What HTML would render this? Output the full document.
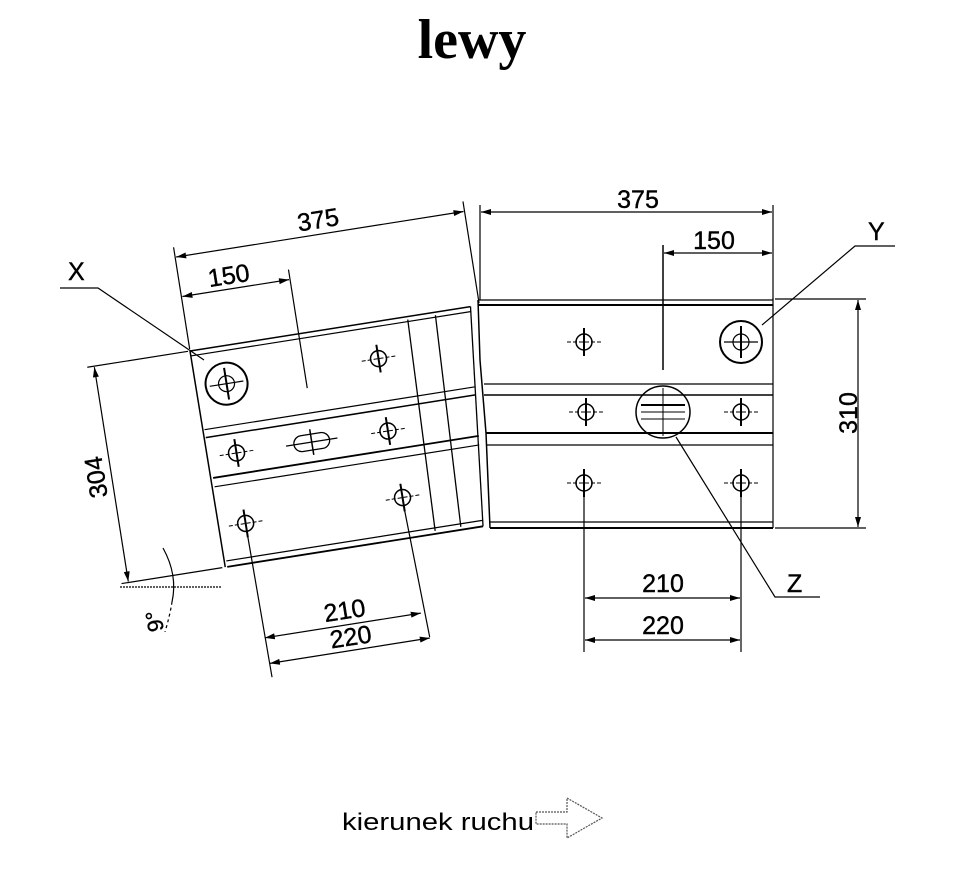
<!DOCTYPE html>
<html><head><meta charset="utf-8"><style>
html,body{margin:0;padding:0;background:#fff;}
svg{display:block;}
text{font-family:"Liberation Sans",Arial,sans-serif;fill:#000;}
.d{font-size:25px;stroke:#000;stroke-width:0.4;}
</style></head><body>
<svg width="957" height="875" viewBox="0 0 957 875" xmlns="http://www.w3.org/2000/svg">
<defs>
<marker id="a" viewBox="0 0 10 6" refX="10" refY="3" markerWidth="12" markerHeight="6" orient="auto-start-reverse" markerUnits="userSpaceOnUse"><path d="M0,0 L10,3 L0,6 Z" fill="#000"/></marker>
<g id="sh">
<circle r="8" fill="none" stroke="#000" stroke-width="1.5"/>
<line x1="-17" y1="0" x2="17" y2="0" stroke="#000" stroke-width="1" stroke-dasharray="4,2"/>
<line x1="0" y1="-14" x2="0" y2="14" stroke="#000" stroke-width="2"/>
</g>
<g id="bh">
<circle r="21" fill="none" stroke="#000" stroke-width="2"/>
<circle r="8" fill="none" stroke="#000" stroke-width="1.2"/>
<line x1="-17" y1="0" x2="17" y2="0" stroke="#000" stroke-width="1.2"/>
<line x1="0" y1="-16" x2="0" y2="16" stroke="#000" stroke-width="2"/>
</g>
</defs>

<text x="472" y="58" text-anchor="middle" style="font-family:'Liberation Serif',serif;font-weight:bold;font-size:56px">lewy</text>

<!-- RIGHT PANEL -->
<g stroke="#000" fill="none">
<line x1="478" y1="300" x2="773" y2="300" stroke-width="1.2"/>
<line x1="478" y1="305" x2="773" y2="305" stroke-width="2"/>
<line x1="484" y1="384" x2="773" y2="384" stroke-width="1.2"/>
<line x1="484" y1="395" x2="773" y2="395" stroke-width="1.5"/>
<line x1="486" y1="433" x2="773" y2="433" stroke-width="2"/>
<line x1="486" y1="445" x2="773" y2="445" stroke-width="1.2"/>
<line x1="490" y1="522" x2="773" y2="522" stroke-width="1.2"/>
<line x1="490" y1="528" x2="773" y2="528" stroke-width="2"/>
<line x1="773" y1="298" x2="773" y2="528" stroke-width="1.2"/>
<path d="M478,300 L480,360 L486,433 L490,528" stroke-width="1.5"/>
<line x1="663" y1="245" x2="663" y2="370" stroke-width="1.5"/>
</g>
<use href="#sh" x="584" y="342"/>
<use href="#bh" x="741" y="342"/>
<use href="#sh" x="586" y="412"/>
<use href="#sh" x="741" y="412"/>
<use href="#sh" x="584" y="483"/>
<use href="#sh" x="741" y="483"/>
<g stroke="#000" fill="none">
<ellipse cx="663" cy="412" rx="27" ry="26" stroke-width="1.5"/>
<line x1="641" y1="405" x2="685" y2="405" stroke-width="2"/>
<line x1="641" y1="412" x2="685" y2="412" stroke-width="1"/>
<line x1="641" y1="419" x2="685" y2="419" stroke-width="1"/>
<line x1="663" y1="388" x2="663" y2="436" stroke-width="1"/>
</g>
<!-- right dims -->
<g stroke="#000" stroke-width="1.2" fill="none">
<line x1="480" y1="205" x2="480" y2="300"/>
<line x1="773" y1="205" x2="773" y2="300"/>
<line x1="481" y1="212" x2="772" y2="212" marker-start="url(#a)" marker-end="url(#a)"/>
<line x1="664" y1="253" x2="772" y2="253" marker-start="url(#a)" marker-end="url(#a)"/>
<line x1="775" y1="299" x2="866" y2="299"/>
<line x1="775" y1="528" x2="866" y2="528"/>
<line x1="858" y1="300" x2="858" y2="527" marker-start="url(#a)" marker-end="url(#a)"/>
<line x1="584" y1="495" x2="584" y2="652"/>
<line x1="741" y1="495" x2="741" y2="652"/>
<line x1="585" y1="598" x2="740" y2="598" marker-start="url(#a)" marker-end="url(#a)"/>
<line x1="585" y1="640" x2="740" y2="640" marker-start="url(#a)" marker-end="url(#a)"/>
<path d="M895,246 L855,246 L762,325"/>
<path d="M820,597 L775,597 L676,437"/>
</g>
<text class="d" x="638" y="208" text-anchor="middle">375</text>
<text class="d" x="714" y="249" text-anchor="middle">150</text>
<text class="d" x="663" y="592" text-anchor="middle">210</text>
<text class="d" x="663" y="634" text-anchor="middle">220</text>
<text class="d" x="868" y="240">Y</text>
<text class="d" x="787" y="592">Z</text>
<text class="d" transform="translate(857,413) rotate(-90)" text-anchor="middle">310</text>

<!-- LEFT PANEL (local frame) -->
<g transform="translate(190,351) rotate(-9)">
<g stroke="#000" fill="none">
<line x1="0" y1="0" x2="284" y2="0" stroke-width="1.5"/>
<line x1="0" y1="5" x2="284" y2="5" stroke-width="1.2"/>
<line x1="2" y1="80" x2="276" y2="80" stroke-width="1.2"/>
<line x1="2" y1="88" x2="275" y2="88" stroke-width="1.5"/>
<line x1="3" y1="129" x2="272" y2="129" stroke-width="1.8"/>
<line x1="3" y1="138" x2="271" y2="138" stroke-width="1.2"/>
<line x1="3" y1="213" x2="263" y2="213" stroke-width="1.2"/>
<line x1="3" y1="219" x2="262" y2="219" stroke-width="1.8"/>
<line x1="0" y1="0" x2="1" y2="219" stroke-width="1.5"/>
<line x1="220" y1="3" x2="214" y2="216" stroke-width="1.3"/>
<line x1="248" y1="3" x2="240" y2="216" stroke-width="1.3"/>
<line x1="284" y1="0" x2="262" y2="219" stroke-width="1.3"/>
<!-- 304 -->
<line x1="-2" y1="0" x2="-104" y2="0" stroke-width="1.2"/>
<line x1="-2" y1="219" x2="-104" y2="219" stroke-width="1.2"/>
<line x1="-97" y1="1" x2="-97" y2="218" stroke-width="1.2" marker-start="url(#a)" marker-end="url(#a)"/>
<!-- top dims -->
<line x1="0" y1="-2" x2="0" y2="-105" stroke-width="1.2"/>
<line x1="293" y1="-2" x2="293" y2="-105" stroke-width="1.2"/>
<line x1="1" y1="-95" x2="292" y2="-95" stroke-width="1.2" marker-start="url(#a)" marker-end="url(#a)"/>
<line x1="110" y1="-65" x2="110" y2="55" stroke-width="1.2"/>
<line x1="1" y1="-55" x2="109" y2="-55" stroke-width="1.2" marker-start="url(#a)" marker-end="url(#a)"/>
<!-- bottom dims -->
<line x1="28" y1="190" x2="30" y2="335" stroke-width="1.2"/>
<line x1="187" y1="190" x2="192" y2="320" stroke-width="1.2"/>
<line x1="29" y1="295" x2="187" y2="295" stroke-width="1.2" marker-start="url(#a)" marker-end="url(#a)"/>
<line x1="30" y1="321" x2="192" y2="321" stroke-width="1.2" marker-start="url(#a)" marker-end="url(#a)"/>
<!-- slot -->
<rect x="88" y="101" width="36" height="16" rx="8" stroke-width="1.3"/>
<line x1="80" y1="109" x2="132" y2="109" stroke-width="1.2"/>
<line x1="106" y1="96" x2="106" y2="122" stroke-width="1.5"/>
</g>
<use href="#bh" x="31" y="38"/>
<use href="#sh" x="185" y="37"/>
<use href="#sh" x="30" y="108"/>
<use href="#sh" x="183" y="110"/>
<use href="#sh" x="28" y="179"/>
<use href="#sh" x="187" y="178"/>
<text class="d" x="147" y="-101" text-anchor="middle">375</text>
<text class="d" x="50" y="-60" text-anchor="middle">150</text>
<text class="d" x="112" y="289" text-anchor="middle">210</text>
<text class="d" x="114" y="316" text-anchor="middle">220</text>
<text class="d" transform="translate(-104,110) rotate(-90)" text-anchor="middle">304</text>
</g>

<!-- 9 deg -->
<g stroke="#000" fill="none" stroke-width="1.2">
<line x1="120" y1="587" x2="222" y2="587" stroke-dasharray="2,1"/>
<path d="M163,548 Q178,575 172,602" />
<path d="M172,602 Q170,615 165,632" stroke-dasharray="3,3"/>
</g>
<text class="d" transform="translate(162,620) rotate(-100)" text-anchor="middle" style="font-size:22px">9°</text>

<!-- X -->
<g stroke="#000" fill="none" stroke-width="1.2">
<path d="M60,288 L98,288 L204,360"/>
</g>
<text class="d" x="68" y="280">X</text>

<!-- direction -->
<text x="342" y="830" font-size="24" textLength="192" lengthAdjust="spacingAndGlyphs">kierunek ruchu</text>
<path d="M536,812 L567,812 L567,798 L602,818 L567,838 L567,824 L536,824 Z" fill="none" stroke="#555" stroke-width="1.2" stroke-dasharray="2,1"/>
</svg>
</body></html>
